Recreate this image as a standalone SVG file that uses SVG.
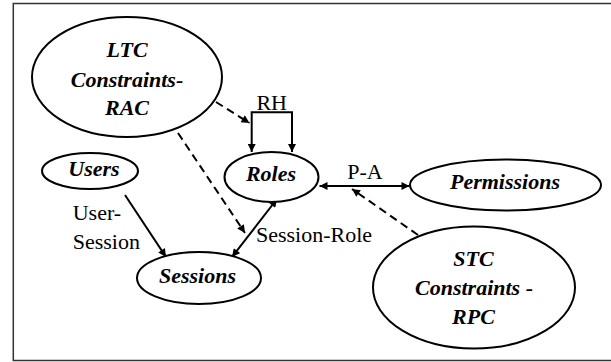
<svg xmlns="http://www.w3.org/2000/svg" width="611" height="362" viewBox="0 0 611 362">
<style>
.node{fill:#fff;stroke:#000;stroke-width:2}
.nt{font-family:"Liberation Serif","Times New Roman",serif;font-size:22px;font-weight:bold;font-style:italic;text-anchor:middle;fill:#000}
.lt{font-family:"Liberation Serif","Times New Roman",serif;font-size:22px;fill:#000}
.edge{fill:none;stroke:#000;stroke-width:2}
.dash{fill:none;stroke:#000;stroke-width:2;stroke-dasharray:8 5}
</style>
<defs>
<marker id="ah" viewBox="0 0 10 10" refX="10" refY="5" markerWidth="9" markerHeight="8" markerUnits="userSpaceOnUse" orient="auto-start-reverse">
<path d="M0,0 L10,5 L0,10 z" fill="#000"/>
</marker>
</defs>
<rect x="13.3" y="3.5" width="610" height="357" fill="#fff" stroke="#333" stroke-width="1.5"/>
<g id="connectors">
<path class="edge" d="M251.7,152 V112.3 H292 V152" marker-start="url(#ah)" marker-end="url(#ah)"/>
<path class="dash" d="M216,102 L249.5,123" marker-end="url(#ah)"/>
<path class="dash" d="M178,133 L245,233" marker-end="url(#ah)"/>
<path class="edge" d="M125,195 L166,257" marker-end="url(#ah)"/>
<path class="edge" d="M232,257 L277,199" marker-start="url(#ah)" marker-end="url(#ah)"/>
<path class="edge" d="M319.5,186 L409.5,186" marker-start="url(#ah)" marker-end="url(#ah)"/>
<path class="dash" d="M418,235 L352,189" marker-end="url(#ah)"/>
<text class="lt" x="271.7" y="110" text-anchor="middle">RH</text>
<text class="lt" x="365" y="179" text-anchor="middle">P-A</text>
<text class="lt" x="72.7" y="220">User-</text>
<text class="lt" x="72.7" y="249">Session</text>
<text class="lt" x="256" y="242">Session-Role</text>
</g>
<g id="ltc">
<ellipse class="node" cx="127" cy="77" rx="95" ry="60"/>
<text class="nt" x="127" y="57">LTC</text>
<text class="nt" x="127" y="86.5">Constraints-</text>
<text class="nt" x="127" y="115">RAC</text>
</g>
<g id="users">
<ellipse class="node" cx="90" cy="171" rx="48" ry="18"/>
<text class="nt" x="94" y="176">Users</text>
</g>
<g id="roles">
<ellipse class="node" cx="271.5" cy="177" rx="47" ry="25"/>
<text class="nt" x="271" y="181">Roles</text>
</g>
<g id="sessions">
<ellipse class="node" cx="199" cy="278" rx="62" ry="26"/>
<text class="nt" x="197.5" y="283">Sessions</text>
</g>
<g id="permissions">
<ellipse class="node" cx="505.5" cy="185" rx="95.5" ry="25.5"/>
<text class="nt" x="505" y="189">Permissions</text>
</g>
<g id="stc">
<ellipse class="node" cx="474" cy="287.5" rx="101" ry="61"/>
<text class="nt" x="473.5" y="266">STC</text>
<text class="nt" x="474" y="295">Constraints -</text>
<text class="nt" x="473.5" y="324">RPC</text>
</g>
</svg>
